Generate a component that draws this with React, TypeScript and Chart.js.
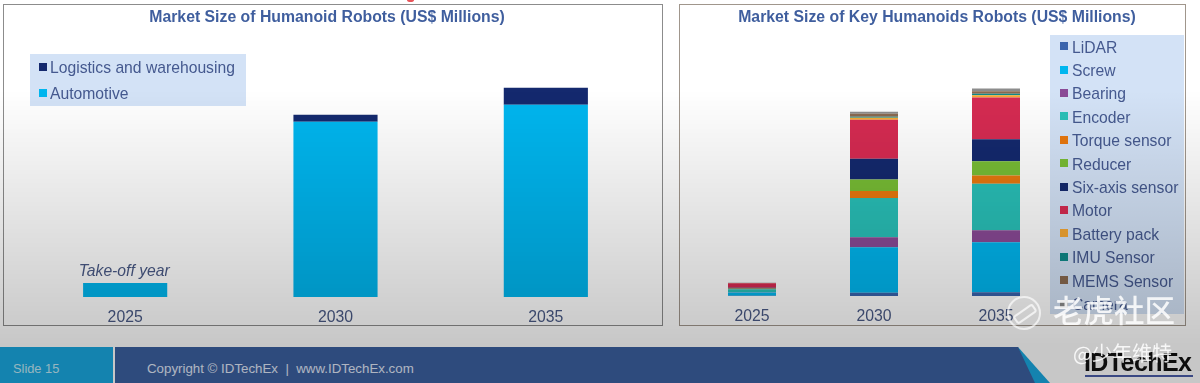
import React, { useEffect, useRef } from "react";
import { Chart, registerables } from "chart.js";

Chart.register(...registerables);

const years = ["2025", "2030", "2035"];

const appNames = ["Automotive", "Logistics and warehousing"];
const automotive = [1400, 17600, 19300];
const logistics = [0, 700, 1700];
const appColors = ["#00b6ef", "#14296e"];

const partNames = ["LiDAR", "Screw", "Bearing", "Encoder", "Torque sensor", "Reducer", "Six-axis sensor", "Motor", "Battery pack", "IMU Sensor", "MEMS Sensor", "Camera"];
const partColors = ["#3a64ad", "#00b6ef", "#8a4a96", "#29c0b8", "#e8780f", "#78bd35", "#14296e", "#d62b52", "#f5a733", "#0f8a8a", "#8a6a50", "#8c8c8c"];
const lidar = [30, 330, 370];
const screw = [330, 4570, 5030];
const bearing = [30, 1000, 1200];
const encoder = [300, 3930, 4670];
const torque = [30, 700, 830];
const reducer = [30, 1170, 1430];
const sixAxis = [80, 2070, 2200];
const motor = [450, 3930, 4200];
const battery = [20, 200, 230];
const imu = [10, 100, 130];
const mems = [10, 300, 270];
const camera = [10, 200, 270];
const partValues = [lidar, screw, bearing, encoder, torque, reducer, sixAxis, motor, battery, imu, mems, camera];

const titleColor = "#3f5e9e";
const textColor = "#45598f";
const tickColor = "#4a5a86";
const FONT = "'Liberation Sans', Arial, sans-serif";

const takeOff = {
  id: "takeOff",
  afterDatasetsDraw(chart: any) {
    const bar = chart.getDatasetMeta(0).data[0];
    const c = chart.ctx;
    c.save();
    c.font = `italic 15.7px ${FONT}`;
    c.fillStyle = tickColor;
    c.textAlign = "center";
    c.textBaseline = "middle";
    c.fillText("Take-off year", bar.x - 1, bar.y - 11);
    c.restore();
  },
};

// the titles sit off the centre of the plot area, and may be wider than it
const titlePlace = (centre: number) => ({
  id: "titlePlace",
  afterLayout(chart: any) {
    chart.titleBlock.left = centre - 300;
    chart.titleBlock.right = centre + 300;
  },
});

function baseOptions(title: string, padL: number, padR: number, barPct: number, max: number): any {
  return {
    responsive: false,
    animation: false,
    layout: { padding: { left: padL, right: padR, top: 3, bottom: 0 } },
    datasets: { bar: { categoryPercentage: 1, barPercentage: barPct } },
    plugins: {
      legend: { display: false },
      tooltip: { enabled: false },
      title: {
        display: true,
        text: title,
        color: titleColor,
        font: { family: FONT, size: 15.8, weight: "bold" },
        padding: { top: 0, bottom: 6 },
      },
    },
    scales: {
      x: {
        stacked: true,
        grid: { display: false, drawTicks: false, tickLength: 0 },
        border: { display: false },
        ticks: { color: tickColor, font: { family: FONT, size: 15.8 }, padding: 11, maxRotation: 0 },
      },
      y: { stacked: true, display: false, min: 0, max },
    },
  };
}

function useChart(build: (c: HTMLCanvasElement) => Chart) {
  const ref = useRef<HTMLCanvasElement>(null);
  useEffect(() => {
    const ch = build(ref.current!);
    return () => ch.destroy();
  }, []);
  return ref;
}

function LegendBox({ names, colors, style, rowH, size, markX, textX }: any) {
  return (
    <div style={{ position: "absolute", background: "#d3e2f6", ...style }}>
      {names.map((n: string, i: number) => (
        <div key={n} style={{ position: "absolute", left: 0, top: i * rowH + 0.6, height: rowH, lineHeight: rowH + "px", whiteSpace: "nowrap", fontSize: size, color: textColor }}>
          <span style={{ position: "absolute", left: markX, top: rowH / 2 - 5, width: 8, height: 8, background: colors[i] }} />
          <span style={{ position: "absolute", left: textX, top: 0 }}>{n}</span>
        </div>
      ))}
    </div>
  );
}

export default function App() {
  const leftRef = useChart((c) =>
    new Chart(c, {
      type: "bar",
      data: {
        labels: years,
        datasets: [
          { label: appNames[0], data: automotive, backgroundColor: appColors[0] },
          { label: appNames[1], data: logistics, backgroundColor: appColors[1] },
        ],
      },
      options: baseOptions("Market Size of Humanoid Robots (US$ Millions)", 16, 11, 0.4, 26500),
      plugins: [takeOff, titlePlace(323)],
    } as any)
  );
  const rightRef = useChart((c) =>
    new Chart(c, {
      type: "bar",
      data: {
        labels: years,
        datasets: partNames.map((n, i) => ({ label: n, data: partValues[i], backgroundColor: partColors[i] })),
      },
      options: baseOptions("Market Size of Key Humanoids Robots (US$ Millions)", 11, 127, 48 / 122, 26400),
      plugins: [titlePlace(257)],
    } as any)
  );

  return (
    <div style={{ position: "fixed", left: 0, top: 0, width: 1200, height: 383, overflow: "hidden", background: "#fff", fontFamily: FONT, filter: "blur(0.35px)" }}>
      <div style={{ position: "absolute", left: 407, top: -2, width: 7, height: 4, borderRadius: "50%", background: "#e8555a" }} />
      <div style={{ position: "absolute", left: 3, top: 4, width: 658, height: 320, border: "1.5px solid #8c8c8c" }} />
      <div style={{ position: "absolute", left: 679, top: 4, width: 505, height: 320, border: "1.5px solid #a0968c" }} />
      <canvas ref={leftRef} width={658} height={333} style={{ position: "absolute", left: 4, top: 5 }} />
      <canvas ref={rightRef} width={504} height={332} style={{ position: "absolute", left: 680, top: 5 }} />
      <LegendBox names={[appNames[1], appNames[0]]} colors={[appColors[1], appColors[0]]} rowH={26} size={15.7} markX={9} textX={20} style={{ left: 30, top: 54, width: 216, height: 52 }} />
      <LegendBox names={partNames} colors={partColors} rowH={23.4} size={15.7} markX={10} textX={22} style={{ left: 1050, top: 35, width: 134, height: 279 }} />

      {/* footer */}
      <div style={{ position: "absolute", left: 0, top: 347, width: 113, height: 36, background: "#1aa8e0" }} />
      <div style={{ position: "absolute", left: 115, top: 347, width: 935, height: 36, background: "#1aa8e0", clipPath: "polygon(0 0, 903px 0, 935px 100%, 0 100%)" }} />
      <div style={{ position: "absolute", left: 115, top: 347, width: 935, height: 36, background: "#3b60a0", clipPath: "polygon(0 0, 903px 0, 920px 100%, 0 100%)" }} />
      <div style={{ position: "absolute", left: 13, top: 361, fontSize: 12.8, color: "#c0e8f6" }}>Slide 15</div>
      <div style={{ position: "absolute", left: 147, top: 361, fontSize: 13.3, color: "#e0e8f8", whiteSpace: "pre" }}>{"Copyright © IDTechEx  |  www.IDTechEx.com"}</div>
      <div style={{ position: "absolute", left: 1084, top: 348, fontSize: 25, fontWeight: "bold", color: "#111", letterSpacing: -0.6, whiteSpace: "nowrap" }}>IDTechEx</div>
      <div style={{ position: "absolute", left: 1085, top: 375, width: 108, height: 2, background: "#4a5ca8" }} />

      {/* dimming of the lower part of the screenshot */}
      <div style={{ position: "absolute", left: 0, top: 0, width: 1200, height: 383, pointerEvents: "none", background: "linear-gradient(to bottom, rgba(0,0,0,0) 90px, rgba(0,0,0,0.22) 345px, rgba(0,0,0,0.22) 383px)" }} />

      {/* watermark */}
      <div style={{ position: "absolute", left: 1007, top: 296, width: 30, height: 30, borderRadius: "50%", border: "2px solid rgba(255,255,255,0.65)" }} />
      <div style={{ position: "absolute", left: 1013, top: 309, width: 20, height: 6, borderRadius: 3, transform: "rotate(-35deg)", border: "2px solid rgba(255,255,255,0.7)" }} />
      <div style={{ position: "absolute", left: 1053, top: 293, fontFamily: "'Noto Sans CJK SC'", fontSize: 30.5, lineHeight: "32px", fontWeight: 500, color: "rgba(255,255,255,0.85)", whiteSpace: "nowrap" }}>老虎社区</div>
      <div style={{ position: "absolute", left: 1073, top: 342, fontFamily: "'Noto Sans CJK SC'", fontSize: 20, lineHeight: "22px", color: "rgba(255,255,255,0.85)", whiteSpace: "nowrap" }}>@少年维特</div>
    </div>
  );
}
